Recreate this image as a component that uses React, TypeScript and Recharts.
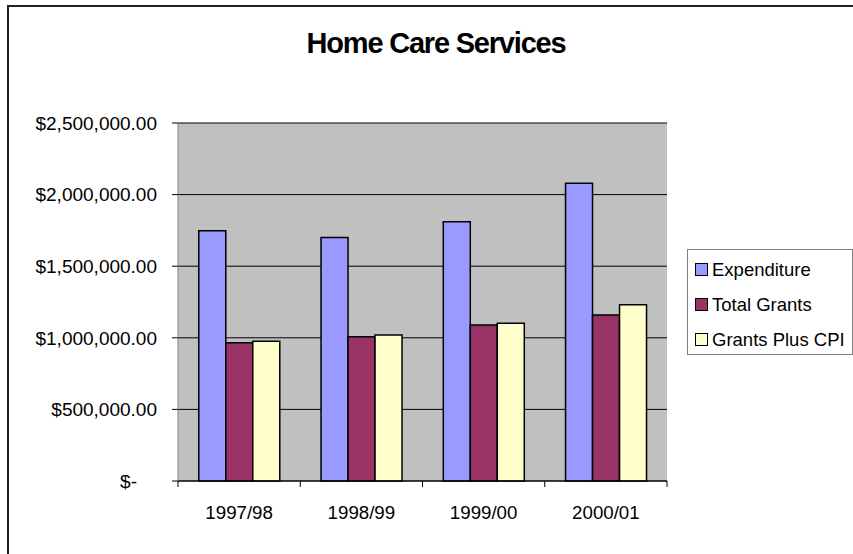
import { Bar, BarChart, CartesianGrid, Legend, XAxis, YAxis } from "recharts";

const categories = ["1997/98", "1998/99", "1999/00", "2000/01"];
const seriesNames = ["Expenditure", "Total Grants", "Grants Plus CPI"];
const expenditure = [1747000, 1700000, 1810000, 2080000];
const totalGrants = [966000, 1008000, 1090000, 1160000];
const grantsPlusCpi = [976000, 1020000, 1102000, 1230000];
const yTicks = [0, 500000, 1000000, 1500000, 2000000, 2500000];

const data = categories.map((year, i) => ({
  year,
  expenditure: expenditure[i],
  totalGrants: totalGrants[i],
  grantsPlusCpi: grantsPlusCpi[i],
}));

const W = 853;
const H = 554;
const FONT = "'Liberation Sans', Arial, sans-serif";
const PLOT_LEFT = 178;
const PLOT_RIGHT = 186;
const PLOT_WIDTH = W - PLOT_LEFT - PLOT_RIGHT;
const BAND = PLOT_WIDTH / categories.length;

const money = (v: number) =>
  v === 0
    ? "$-"
    : "$" + v.toLocaleString("en-US", { minimumFractionDigits: 2, maximumFractionDigits: 2 });

function YTick(props: any) {
  const { x, y, payload } = props;
  return (
    <text
      x={payload.value === 0 ? x - 20 : x}
      y={y}
      dy="0.355em"
      textAnchor="end"
      fontFamily={FONT}
      fontSize={19}
      fill="#000"
    >
      {money(payload.value)}
    </text>
  );
}

function XTick(props: any) {
  const { x, y, payload, index } = props;
  const axisY = y - 25;
  const left = x - BAND / 2;
  return (
    <g>
      <line x1={left} x2={left} y1={axisY} y2={axisY + 6} stroke="#000" />
      {index === categories.length - 1 && (
        <line x1={left + BAND} x2={left + BAND} y1={axisY} y2={axisY + 6} stroke="#000" />
      )}
      <text
        x={x}
        y={y}
        dy="0.71em"
        textAnchor="middle"
        fontFamily={FONT}
        fontSize={18.7}
        fill="#000"
      >
        {payload.value}
      </text>
    </g>
  );
}

function LegendBox(props: any) {
  const items = [...(props.payload || [])].sort(
    (a: any, b: any) => seriesNames.indexOf(a.value) - seriesNames.indexOf(b.value)
  );
  return (
    <div
      style={{
        boxSizing: "border-box",
        width: 166,
        height: 106,
        border: "1px solid #808080",
        background: "#fff",
        paddingTop: 2,
        paddingLeft: 7,
        fontFamily: FONT,
        fontSize: 18.5,
        color: "#000",
      }}
    >
      {items.map((it: any) => (
        <div
          key={it.value}
          style={{ height: 35, display: "flex", alignItems: "center", whiteSpace: "nowrap" }}
        >
          <span
            style={{
              boxSizing: "border-box",
              width: 13,
              height: 13,
              background: it.color,
              border: "1.5px solid #000",
              marginRight: 4,
              flex: "none",
            }}
          />
          {it.value}
        </div>
      ))}
    </div>
  );
}

export default function App() {
  return (
    <div style={{ position: "relative", width: W, height: H, background: "#fff", overflow: "hidden" }}>
      <style>{`body{margin:0}`}</style>
      <div
        style={{
          position: "absolute",
          left: 7,
          top: 5,
          width: W,
          height: H,
          borderLeft: "2px solid #222",
          borderTop: "2px solid #222",
        }}
      />
      <div
        style={{
          position: "absolute",
          left: 436 - 250,
          width: 500,
          top: 29,
          textAlign: "center",
          fontFamily: FONT,
          fontWeight: "bold",
          fontSize: 29,
          lineHeight: "29px",
          letterSpacing: -1.2,
          color: "#000",
        }}
      >
        Home Care Services
      </div>
      <BarChart
        width={W}
        height={H}
        data={data}
        margin={{ top: 123, right: PLOT_RIGHT, bottom: 0, left: 0 }}
        barCategoryGap="17%"
        barGap={0}
        style={{ position: "absolute", left: 0, top: 0 }}
      >
        <CartesianGrid vertical={false} fill="#C0C0C0" stroke="#000" />
        <XAxis
          dataKey="year"
          height={73}
          axisLine={{ stroke: "#000" }}
          tickLine={false}
          tickSize={6}
          tickMargin={19}
          tick={<XTick />}
          interval={0}
        />
        <YAxis
          width={PLOT_LEFT}
          domain={[0, 2500000]}
          ticks={yTicks}
          axisLine={{ stroke: "#808080" }}
          tickLine={{ stroke: "#000" }}
          tickSize={6}
          tickMargin={15}
          tick={<YTick />}
          interval={0}
        />
        <YAxis
          yAxisId="right"
          orientation="right"
          width={0}
          domain={[0, 1]}
          tick={false}
          tickLine={false}
          axisLine={{ stroke: "#808080" }}
        />
        <Legend
          layout="horizontal"
          verticalAlign="middle"
          align="center"
          wrapperStyle={{ left: 687, top: 249, width: 166 }}
          content={<LegendBox />}
        />
        <Bar dataKey="expenditure" name={seriesNames[0]} fill="#9999FF" stroke="#000" strokeWidth={1.5} isAnimationActive={false} />
        <Bar dataKey="totalGrants" name={seriesNames[1]} fill="#993366" stroke="#000" strokeWidth={1.5} isAnimationActive={false} />
        <Bar dataKey="grantsPlusCpi" name={seriesNames[2]} fill="#FFFFCC" stroke="#000" strokeWidth={1.5} isAnimationActive={false} />
      </BarChart>
    </div>
  );
}
